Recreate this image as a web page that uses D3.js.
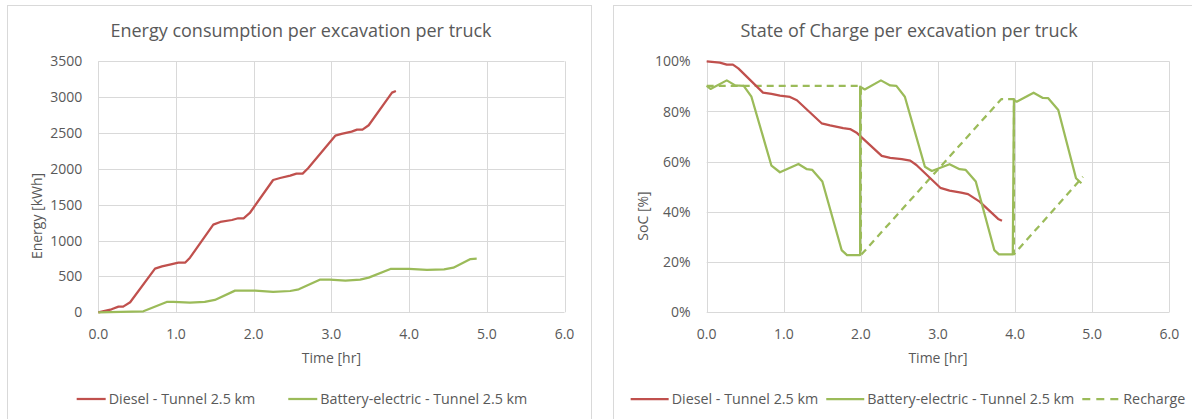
<!DOCTYPE html>
<html>
<head>
<meta charset="utf-8">
<script src="https://cdn.jsdelivr.net/npm/d3@7"></script>
<style>
  body { margin: 0; background: #fff; }
  svg text { font-family: "Open Sans", Lato, sans-serif; fill: #595959; }
</style>
</head>
<body>
<div id="chart"></div>
<script>

// Data
const timeTicks = [0, 1, 2, 3, 4, 5, 6]
const energyTicks = [0, 500, 1000, 1500, 2000, 2500, 3000, 3500]
const socTicks = [0, 20, 40, 60, 80, 100]

// Energy consumption [kWh]
const dieselEnergyTime = [0, 0.17, 0.26, 0.32, 0.41, 0.73, 0.82, 0.92, 1.03, 1.12, 1.18, 1.48, 1.57, 1.72, 1.80, 1.87, 1.95, 2.25, 2.34, 2.47, 2.55, 2.63, 2.70, 3.05, 3.13, 3.26, 3.33, 3.40, 3.48, 3.78, 3.83]
const dieselEnergy = [0, 42, 79, 79, 140, 609, 641, 665, 693, 693, 762, 1222, 1260, 1287, 1311, 1311, 1385, 1845, 1873, 1906, 1934, 1934, 2008, 2463, 2487, 2519, 2547, 2547, 2608, 3063, 3086]

const bevEnergyTime = [0, 0.58, 0.88, 0.97, 1.18, 1.37, 1.50, 1.76, 2.02, 2.25, 2.47, 2.58, 2.85, 2.98, 3.18, 3.37, 3.48, 3.76, 4.0, 4.23, 4.45, 4.57, 4.79, 4.87]
const bevEnergy = [0, 14, 144, 144, 135, 144, 172, 302, 302, 284, 297, 321, 455, 455, 442, 455, 483, 604, 605, 590, 599, 622, 743, 747]

// State of charge [%]
const dieselSocTime = [0, 0.17, 0.26, 0.34, 0.41, 0.73, 0.84, 0.95, 1.08, 1.17, 1.49, 1.60, 1.77, 1.86, 1.95, 2.27, 2.38, 2.53, 2.64, 2.72, 3.03, 3.15, 3.30, 3.39, 3.54, 3.78, 3.83]
const dieselSoc = [100, 99.5, 98.7, 98.7, 97.2, 87.5, 87, 86.3, 85.8, 84.5, 75.3, 74.5, 73.4, 73, 71.4, 62.3, 61.5, 61, 60.4, 58.7, 49.6, 48.5, 47.7, 47.1, 44.1, 37.2, 36.5]

const bevSocTime = [0, 0.05, 0.26, 0.37, 0.48, 0.58, 0.84, 0.95, 1.19, 1.30, 1.37, 1.50, 1.75, 1.82, 1.99, 1.99, 2.05, 2.26, 2.38, 2.46, 2.57, 2.83, 2.92, 3.15, 3.28, 3.36, 3.49, 3.73, 3.79, 3.97, 3.985, 4.02, 4.24, 4.36, 4.43, 4.56, 4.79, 4.86]
const bevSoc = [90.2, 89, 92.4, 90.4, 90.2, 85.9, 58.4, 55.8, 59.1, 57, 56.7, 52.1, 24.8, 22.8, 22.8, 89.9, 88.8, 92.4, 90.4, 90.2, 85.9, 58, 56.3, 59, 57, 56.7, 52.1, 24.8, 23.1, 23.1, 84.6, 83.9, 87.5, 85.4, 85.3, 80.6, 53.4, 51.4]

const rechargeTime = [0, 2.0, 2.0, 3.82, 3.985, 3.985, 4.88]
const rechargeSoc = [90.2, 90.2, 22.8, 84.9, 84.9, 23.1, 54]

const seriesNames = ["Diesel - Tunnel 2.5 km", "Battery-electric - Tunnel 2.5 km", "Recharge"]

const red = "#c0504d"
const green = "#9bbb59"
const gridColor = "#d9d9d9"

const svg = d3.select("#chart")
    .append("svg")
    .attr("width", 1192)
    .attr("height", 419)

function zip(xs, ys) {
    return xs.map((x, i) => [x, ys[i]])
}

function Chart(opts) {
    const g = svg.append("g")

    // panel border
    g.append("rect")
        .attr("x", opts.panel[0] + 0.5)
        .attr("y", 5.5)
        .attr("width", opts.panel[1] - opts.panel[0])
        .attr("height", 430)
        .attr("fill", "none")
        .attr("stroke", gridColor)

    const x = d3.scaleLinear().domain([0, 6]).range([opts.left, opts.right])
    const y = d3.scaleLinear().domain(opts.yDomain).range([312.3, 61.3])

    // grid
    g.append("g").selectAll("line")
        .data(opts.yTicks)
        .join("line")
        .attr("x1", opts.left).attr("x2", opts.right)
        .attr("y1", d => Math.round(y(d)) + 0.5).attr("y2", d => Math.round(y(d)) + 0.5)
        .attr("stroke", gridColor)

    g.append("g").selectAll("line")
        .data(timeTicks)
        .join("line")
        .attr("x1", d => Math.round(x(d)) + 0.5).attr("x2", d => Math.round(x(d)) + 0.5)
        .attr("y1", 61.3).attr("y2", 312.3)
        .attr("stroke", gridColor)

    // tick labels
    g.append("g").selectAll("text")
        .data(opts.yTicks)
        .join("text")
        .attr("x", opts.left - 16)
        .attr("y", d => y(d))
        .attr("dy", "0.36em")
        .attr("text-anchor", "end")
        .attr("font-size", 14)
        .text(opts.yFormat)

    g.append("g").selectAll("text")
        .data(timeTicks)
        .join("text")
        .attr("x", d => x(d))
        .attr("y", 339)
        .attr("text-anchor", "middle")
        .attr("font-size", 14)
        .text(d3.format(".1f"))

    // titles
    g.append("text")
        .attr("x", opts.center)
        .attr("y", 37)
        .attr("text-anchor", "middle")
        .attr("font-size", 18)
        .text(opts.title)

    g.append("text")
        .attr("x", (opts.left + opts.right) / 2)
        .attr("y", 363)
        .attr("text-anchor", "middle")
        .attr("font-size", 14)
        .text("Time [hr]")

    g.append("text")
        .attr("transform", `translate(${opts.yTitleX},216) rotate(-90)`)
        .attr("dy", "0.36em")
        .attr("text-anchor", "middle")
        .attr("font-size", 14)
        .text(opts.yTitle)

    // lines (drawn in drawOrder, recharge first so it sits underneath)
    const line = d3.line()
        .x(d => x(d[0]))
        .y(d => y(d[1]))

    for (const i of opts.drawOrder) {
        const s = opts.series[i]
        g.append("path")
            .datum(s.points)
            .attr("d", line)
            .attr("fill", "none")
            .attr("stroke", s.color)
            .attr("stroke-width", 2.25)
            .attr("stroke-linejoin", "round")
            .attr("stroke-dasharray", s.dash || null)
    }

    // legend
    const legend = g.append("g")
    let pos = 0
    for (const s of opts.series) {
        legend.append("line")
            .attr("x1", pos).attr("x2", pos + opts.sampleLen)
            .attr("y1", 399).attr("y2", 399)
            .attr("stroke", s.color)
            .attr("stroke-width", 2.25)
            .attr("stroke-dasharray", s.dash ? "8,6" : null)
        pos += opts.sampleLen + 3
        const t = legend.append("text")
            .attr("x", pos)
            .attr("y", 404)
            .attr("font-size", 14.3)
            .text(s.name)
        pos += t.node().getComputedTextLength() + opts.itemGap
    }
    pos -= opts.itemGap
    legend.attr("transform", `translate(${opts.legendCenter - pos / 2},0)`)
}

Chart({
    panel: [7, 591],
    left: 98.3, right: 564.5,
    center: 301,
    title: "Energy consumption per excavation per truck",
    yTitle: "Energy [kWh]", yTitleX: 37,
    yDomain: [0, 3500], yTicks: energyTicks,
    yFormat: d => d,
    legendCenter: 302, sampleLen: 29, itemGap: 33,
    series: [
        {name: seriesNames[0], color: red, points: zip(dieselEnergyTime, dieselEnergy)},
        {name: seriesNames[1], color: green, points: zip(bevEnergyTime, bevEnergy)}
    ],
    drawOrder: [0, 1]
})

Chart({
    panel: [613, 1205],
    left: 706.7, right: 1169.3,
    center: 909,
    title: "State of Charge per excavation per truck",
    yTitle: "SoC [%]", yTitleX: 643,
    yDomain: [0, 100], yTicks: socTicks,
    yFormat: d => d + "%",
    legendCenter: 908, sampleLen: 38, itemGap: 8,
    series: [
        {name: seriesNames[0], color: red, points: zip(dieselSocTime, dieselSoc)},
        {name: seriesNames[1], color: green, points: zip(bevSocTime, bevSoc)},
        {name: seriesNames[2], color: green, dash: "7,5", points: zip(rechargeTime, rechargeSoc)}
    ],
    drawOrder: [2, 0, 1]
})

</script>
</body>
</html>
